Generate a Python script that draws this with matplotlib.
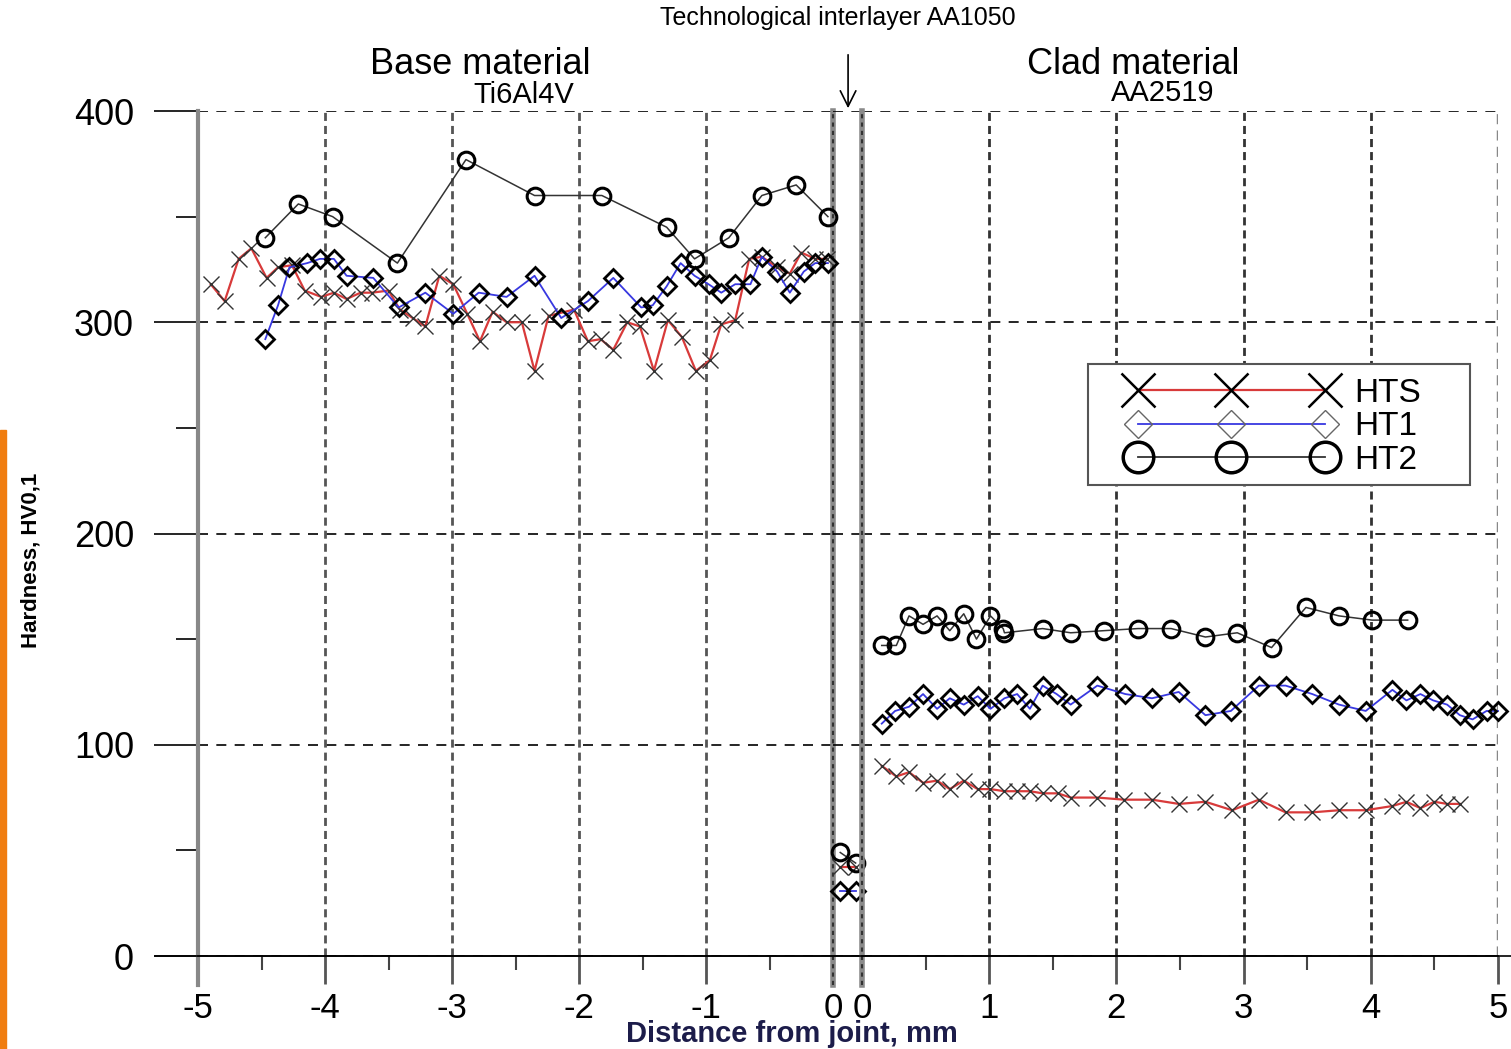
import matplotlib
matplotlib.use("Agg")
import matplotlib.pyplot as plt
from matplotlib.lines import Line2D
from matplotlib.patches import Rectangle

plt.rcParams['font.family'] = ['Liberation Sans', 'DejaVu Sans']
plt.rcParams['axes.unicode_minus'] = False

# Base material (Ti6Al4V), distance from joint in mm
hts_left_x = [-4.90, -4.79, -4.68, -4.58, -4.46, -4.37, -4.26, -4.16, -4.03, -3.93, -3.83, -3.72,
              -3.63, -3.50, -3.41, -3.31, -3.21, -3.10, -2.99, -2.88, -2.78, -2.68, -2.57, -2.45,
              -2.35, -2.24, -2.04, -1.93, -1.83, -1.73, -1.62, -1.52, -1.41, -1.30, -1.19, -1.08,
              -0.97, -0.88, -0.77, -0.66, -0.56, -0.44, -0.34, -0.25, -0.14, -0.05]
hts_left = [318, 310, 330, 335, 321, 326, 327, 315, 312, 314, 311, 314,
            314, 315, 306, 302, 298, 322, 318, 304, 291, 305, 300, 300,
            277, 303, 306, 291, 292, 287, 300, 298, 277, 301, 293, 277,
            282, 299, 301, 330, 331, 326, 323, 333, 330, 330]

ht1_left_x = [-4.47, -4.37, -4.28, -4.14, -4.04, -3.93, -3.83, -3.62, -3.42, -3.21, -2.99, -2.79,
              -2.57, -2.35, -2.14, -1.93, -1.73, -1.51, -1.42, -1.31, -1.20, -1.09, -0.98, -0.88,
              -0.77, -0.65, -0.56, -0.44, -0.34, -0.23, -0.14, -0.04]
ht1_left = [292, 308, 326, 328, 330, 330, 322, 321, 307, 314, 304, 314,
            312, 322, 302, 310, 321, 307, 308, 317, 328, 322, 318, 314,
            318, 318, 331, 324, 314, 324, 328, 328]

ht2_left_x = [-4.47, -4.21, -3.94, -3.43, -2.89, -2.35, -1.82, -1.31, -1.09, -0.82, -0.56, -0.29, -0.04]
ht2_left = [340, 356, 350, 328, 377, 360, 360, 345, 330, 340, 360, 365, 350]

# Technological interlayer AA1050 (position inside the interlayer band, 0..1)
mid_x = [0.25, 0.78]
hts_mid = [42, 42]
ht1_mid = [31, 31]
ht2_mid = [49, 44]

# Clad material (AA2519)
hts_right_x = [0.155, 0.27, 0.37, 0.48, 0.59, 0.69, 0.80, 0.91, 1.01, 1.12, 1.22, 1.32,
               1.42, 1.54, 1.64, 1.85, 2.06, 2.28, 2.49, 2.70, 2.91, 3.12, 3.33, 3.54,
               3.75, 3.96, 4.17, 4.28, 4.39, 4.50, 4.60, 4.70]
hts_right = [90, 85, 87, 82, 83, 79, 83, 79, 79, 78, 78, 78,
             77, 77, 75, 75, 74, 74, 72, 73, 69, 74, 68, 68,
             69, 69, 71, 73, 70, 73, 72, 72]

ht1_right_x = [0.155, 0.26, 0.37, 0.48, 0.59, 0.69, 0.80, 0.91, 1.01, 1.12, 1.22, 1.32,
               1.42, 1.53, 1.64, 1.85, 2.07, 2.28, 2.49, 2.70, 2.90, 3.12, 3.33, 3.54,
               3.75, 3.96, 4.17, 4.28, 4.39, 4.49, 4.60, 4.70, 4.80, 4.91, 5.0]
ht1_right = [110, 116, 118, 124, 117, 122, 119, 123, 117, 122, 124, 117,
             128, 124, 119, 128, 124, 122, 125, 114, 116, 128, 128, 124,
             119, 116, 126, 121, 124, 121, 119, 114, 112, 116, 116]

ht2_right_x = [0.155, 0.27, 0.37, 0.48, 0.59, 0.69, 0.80, 0.90, 1.01, 1.11, 1.12, 1.42,
               1.64, 1.90, 2.17, 2.43, 2.70, 2.95, 3.22, 3.49, 3.75, 4.01, 4.29]
ht2_right = [147, 147, 161, 157, 161, 154, 162, 150, 161, 155, 153, 155,
             153, 154, 155, 155, 151, 153, 146, 165, 161, 159, 159]

left_ticks = [-5, -4, -3, -2, -1, 0]
right_ticks = [0, 1, 2, 3, 4, 5]
y_ticks = [0, 100, 200, 300, 400]

W, H = 1511, 1049


def fx(p):
    return p / W


def fy(p):
    return 1 - p / H


fig = plt.figure(figsize=(W / 100, H / 100), dpi=100)
fig.patch.set_facecolor('white')

axL = fig.add_axes([fx(198), fy(956), (833 - 198) / W, 845 / H])
axM = fig.add_axes([fx(833), fy(956), 29 / W, 845 / H])
axR = fig.add_axes([fx(862), fy(956), 636 / W, 845 / H])

for ax in (axL, axM, axR):
    ax.set_facecolor('none')
    ax.set_ylim(0, 400)
    for s in ('left', 'right', 'top'):
        ax.spines[s].set_visible(False)
    ax.spines['bottom'].set_color('black')
    ax.spines['bottom'].set_linewidth(1.2)
    ax.set_yticks(y_ticks)
    ax.yaxis.grid(True, which='major', color='black', lw=1.2, linestyle=(0, (6, 5)))
    ax.set_axisbelow(True)

# y axis on the left panel only
axL.set_yticks([50, 150, 250, 350], minor=True)
axL.tick_params(axis='y', which='major', length=32, width=1.2, color='black', pad=14, labelsize=26)
axL.tick_params(axis='y', which='minor', length=16, width=1.2, color='black')
for ax in (axM, axR):
    ax.tick_params(axis='y', left=False, labelleft=False)

axL.set_xlim(-5, 0)
axL.set_xticks(left_ticks)
axL.set_xticks([-4.5, -3.5, -2.5, -1.5, -0.5], minor=True)
axR.set_xlim(0, 5)
axR.set_xticks(right_ticks)
axR.set_xticks([0.5, 1.5, 2.5, 3.5, 4.5], minor=True)
axM.set_xlim(0, 1)
axM.set_xticks([])
for ax in (axL, axR):
    ax.tick_params(axis='x', which='major', length=20, width=2, color='#555555', pad=6, labelsize=25)
    ax.tick_params(axis='x', which='minor', length=10, width=1.5, color='#444444')

# vertical dashed grid lines
for xv in left_ticks[1:-1]:
    axL.axvline(xv, color='#555555', lw=2, linestyle=(0, (2.9, 1.8)), zorder=1)
for xv in right_ticks[1:-1]:
    axR.axvline(xv, color='#333333', lw=2, linestyle=(0, (2.9, 1.8)), zorder=1)
axR.axvline(5, color='#888888', lw=2.5, linestyle=(0, (2.9, 1.8)), zorder=1)

# left axis line and interlayer boundaries
axL.axvline(-5, ymin=-0.034, ymax=1, color='#888888', lw=3, clip_on=False, zorder=2)
for ax, xv in ((axL, 0), (axR, 0)):
    ax.axvline(xv, ymin=-0.034, ymax=1, color='#8a8a8a', lw=4, clip_on=False, zorder=2)
    ax.axvline(xv, ymin=-0.034, ymax=1, color='#333333', lw=1.5, linestyle=(0, (2, 2)),
               clip_on=False, zorder=2)

# extend bottom axis line to the left
fig.add_artist(Line2D([fx(155), fx(1511)], [fy(956), fy(956)], color='black', lw=1.2,
                      transform=fig.transFigure))

hts_style = dict(color='#d83a3a', lw=1.6, marker='x', ms=11, mec='#333333', mew=1.0,
                 clip_on=False, zorder=4)
ht1_style = dict(color='#3838e0', lw=1.3, marker='D', ms=9.5, mec='black', mfc='none',
                 mew=2.0, clip_on=False, zorder=5)
ht2_style = dict(color='#333333', lw=1.1, marker='o', ms=12, mec='black', mfc='none',
                 mew=2.2, clip_on=False, zorder=6)

axL.plot(hts_left_x, hts_left, **hts_style)
axL.plot(ht1_left_x, ht1_left, **ht1_style)
axL.plot(ht2_left_x, ht2_left, **ht2_style)
axM.plot(mid_x, hts_mid, **hts_style)
axM.plot(mid_x, ht1_mid, **ht1_style)
axM.plot(mid_x, ht2_mid, **ht2_style)
axR.plot(hts_right_x, hts_right, **hts_style)
axR.plot(ht1_right_x, ht1_right, **ht1_style)
axR.plot(ht2_right_x, ht2_right, **ht2_style)

# legend: frame drawn separately so the inner padding can differ
frame = Rectangle((fx(1088), fy(485)), (1470 - 1088) / W, (485 - 364) / H,
                  transform=fig.transFigure, facecolor='white', edgecolor='#555555',
                  lw=1.5, zorder=7)
fig.add_artist(frame)
handles = [
    Line2D([], [], color='#d83a3a', lw=1.6, marker='x', ms=24, mec='black', mew=1.8),
    Line2D([], [], color='#3838e0', lw=1.3, marker='D', ms=14, mec='#666666', mfc='none', mew=1.0),
    Line2D([], [], color='#333333', lw=1.3, marker='o', ms=22, mec='black', mfc='none', mew=2.5),
]
leg = fig.legend(handles, ['HTS', 'HT1', 'HT2'], loc='upper left',
                 bbox_to_anchor=(fx(1118), fy(368)),
                 numpoints=3, handlelength=6.2, handletextpad=0.6, labelspacing=0.07,
                 fontsize=24, borderpad=0.3, borderaxespad=0, frameon=False)
leg.set_zorder(8)

# annotations
fig.text(fx(838), fy(25), 'Technological interlayer AA1050', ha='center', va='baseline', fontsize=18)
fig.text(fx(480), fy(74), 'Base material', ha='center', va='baseline', fontsize=26)
fig.text(fx(524), fy(103), 'Ti6Al4V', ha='center', va='baseline', fontsize=21)
fig.text(fx(1133), fy(74), 'Clad material', ha='center', va='baseline', fontsize=26)
fig.text(fx(1163), fy(101), 'AA2519', ha='center', va='baseline', fontsize=21)
axM.annotate('', xy=(0.52, 1.0), xycoords='axes fraction',
             xytext=(0.52, (956 - 52) / 845), textcoords='axes fraction',
             arrowprops=dict(arrowstyle='->', lw=1.2, color='black', mutation_scale=28))

fig.text(fx(31), fy(560), 'Hardness, HV0,1', rotation=90, ha='center', va='center',
         fontsize=16, fontweight='bold', family=['Liberation Sans Narrow', 'Liberation Sans'])
fig.text(fx(792), fy(1042), 'Distance from joint, mm', ha='center', va='baseline',
         fontsize=21, fontweight='bold', color='#1c1c4a')

# slide edge strip
fig.add_artist(Rectangle((0, 0), 6 / W, (1049 - 430) / H, transform=fig.transFigure,
                         color='#f07d10', zorder=0))

fig.savefig('out.png', dpi=100)
